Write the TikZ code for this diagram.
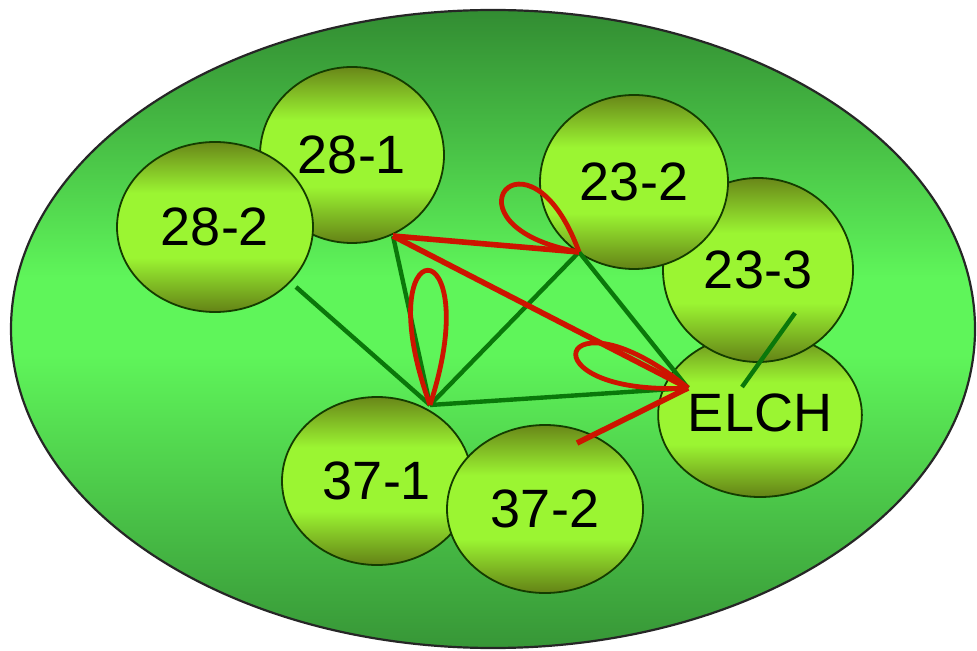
\documentclass[tikz,border=0pt]{standalone}
\usepackage{fontspec}
\setmainfont{Liberation Sans}
\usetikzlibrary{shapes.geometric}
\definecolor{outerdark}{RGB}{50,140,50}
\definecolor{outerlight}{RGB}{95,245,90}
\definecolor{outerbot}{RGB}{55,150,55}
\definecolor{balltop}{RGB}{105,135,25}
\definecolor{balllight}{RGB}{155,245,50}
\definecolor{ballbot}{RGB}{100,130,22}
\definecolor{edgegreen}{RGB}{10,120,10}
\definecolor{edgered}{RGB}{205,20,0}
\definecolor{ballrim}{RGB}{20,60,0}
\pgfdeclareverticalshading{ballshade}{100bp}{color(0bp)=(ballbot); color(25bp)=(ballbot);
  color(41bp)=(balllight); color(60bp)=(balllight); color(75bp)=(balltop); color(100bp)=(balltop)}
\pgfdeclareverticalshading{outershade}{100bp}{color(0bp)=(outerbot); color(25bp)=(outerbot);
  color(48bp)=(outerlight); color(54bp)=(outerlight); color(75bp)=(outerdark); color(100bp)=(outerdark)}
\tikzset{
  ball/.style={ellipse, draw=ballrim, line width=0.9pt, inner sep=0pt,
    shading=ballshade, font=\fontsize{27}{30}\selectfont},
  gedge/.style={draw=edgegreen, line width=2.2pt},
  redge/.style={draw=edgered, line width=2.8pt},
  rloop/.style={draw=edgered, line width=2.4pt},
}
\begin{document}
\begin{tikzpicture}[x=0.5pt,y=-0.5pt]
\useasboundingbox (0,0) rectangle (977,651);
\node[ellipse, draw=black!85, line width=1.1pt, inner sep=0pt,
  minimum width=482pt, minimum height=319pt, shading=outershade] (outer) at (493,329) {};
% circles
\node[ball, minimum width=92pt, minimum height=88pt] (c281) at (352,155) {28-1};
\node[ball, minimum width=98pt, minimum height=85pt] (c282) at (215,227) {28-2};
\node[ball, minimum width=93pt, minimum height=82pt] (elch) at (760,415) {\raisebox{2pt}{ELCH}};
\node[ball, minimum width=95pt, minimum height=92pt] (c233) at (758,270) {23-3};
\node[ball, minimum width=94pt, minimum height=87pt] (c232) at (634,182) {23-2};
\node[ball, minimum width=95pt, minimum height=84pt] (c371) at (377,481) {37-1};
\node[ball, minimum width=98pt, minimum height=84pt] (c372) at (545,509) {37-2};
% connection points
\coordinate (pA) at (393,236);
\coordinate (pB) at (579,252);
\coordinate (pC) at (430,405);
\coordinate (pD) at (688,388);
\coordinate (pE) at (296,287);
\coordinate (pF) at (577,443);
\coordinate (pG1) at (795,313);
\coordinate (pG2) at (742,387);
% green edges
\draw[gedge] (pE) -- (pC);
\draw[gedge] (pA) -- (pC);
\draw[gedge] (pC) -- (pB);
\draw[gedge] (pC) -- (pD);
\draw[gedge] (pB) -- (pD);
\draw[gedge] (pG1) -- (pG2);
% red edges
\draw[redge] (pA) -- (pB);
\draw[redge] (pA) -- (pD);
\draw[redge] (pD) -- (pF);
% red loops
\draw[rloop] (pB) .. controls +(170:74pt) and +(110:74pt) .. (pB);
\draw[rloop] (pC) .. controls +(110:95pt) and +(72:95pt) .. (pC);
\draw[rloop] (pD) .. controls +(183:84pt) and +(141:84pt) .. (pD);
\end{tikzpicture}
\end{document}
